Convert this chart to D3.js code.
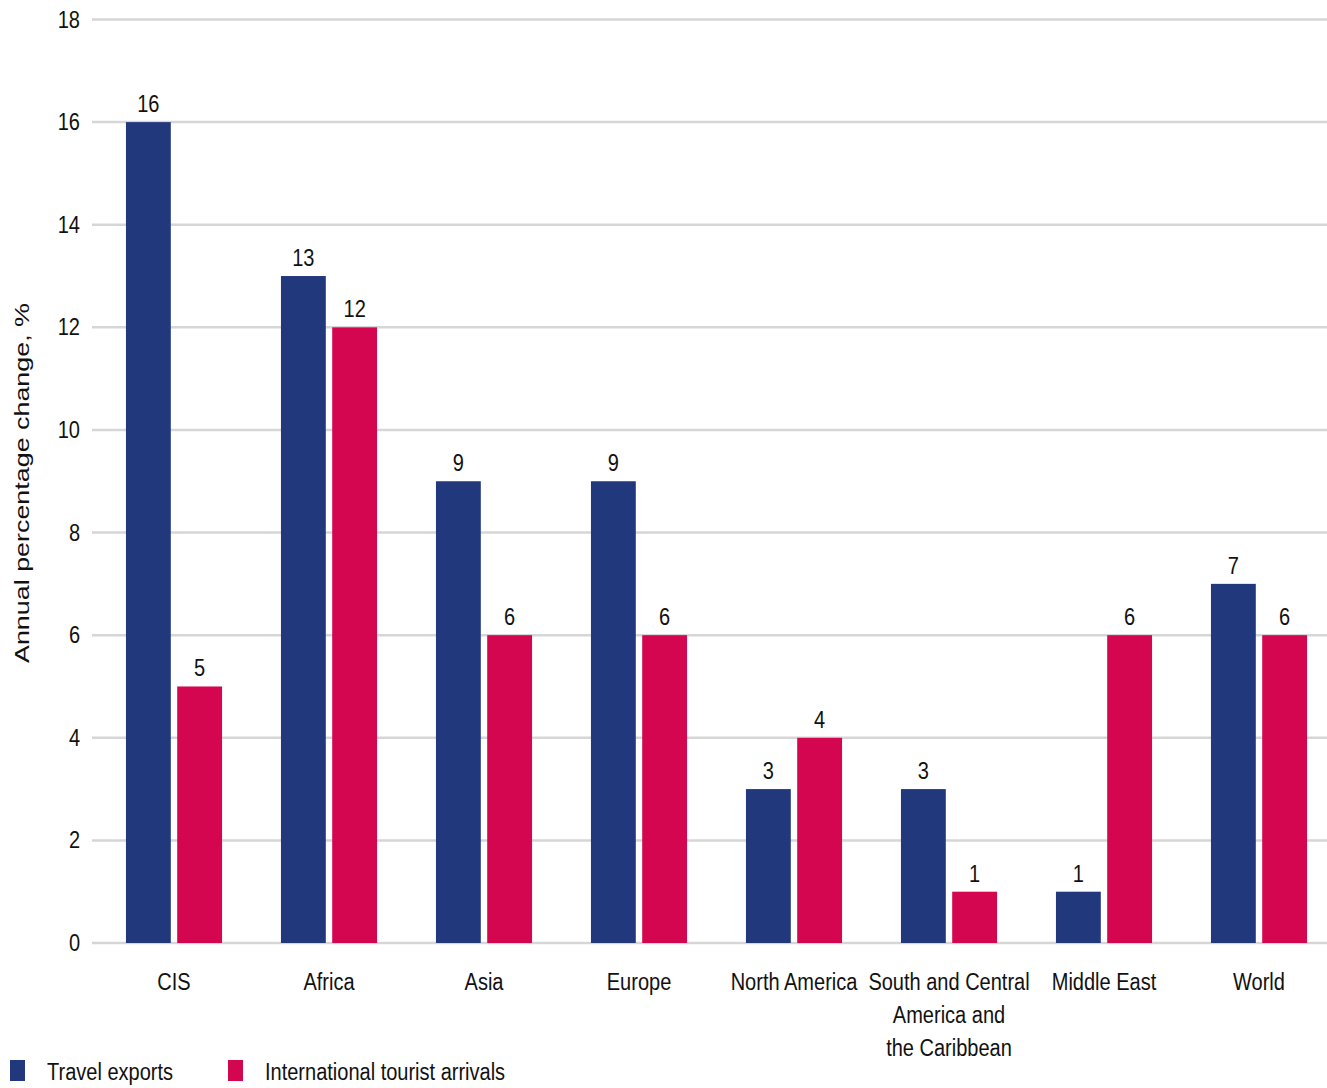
<!DOCTYPE html>
<html><head><meta charset="utf-8">
<script src="https://cdn.jsdelivr.net/npm/d3@7"></script>
<style>
html,body{margin:0;padding:0;background:#fff;}
svg{display:block;}
text{font-family:"Liberation Sans","Arial",sans-serif;fill:#111;}
</style></head>
<body>
<script>
const categories = ["CIS","Africa","Asia","Europe","North America","South and Central America and the Caribbean","Middle East","World"];
const categoryLines = [["CIS"],["Africa"],["Asia"],["Europe"],["North America"],["South and Central","America and","the Caribbean"],["Middle East"],["World"]];
const seriesNames = ["Travel exports","International tourist arrivals"];
const travelExports = [16,13,9,9,3,3,1,7];
const touristArrivals = [5,12,6,6,4,1,6,6];
const yTicks = [0,2,4,6,8,10,12,14,16,18];
const colors = ["#22387d","#d3064f"];

const W = 1327, H = 1088;
const SX = 0.87; // horizontal condensing of text
const FS = 23;
const svg = d3.select("body").append("svg").attr("width",W).attr("height",H);

const y = d3.scaleLinear().domain([0,18]).range([943,19.5]);
const x0 = d3.scaleBand().domain(categories).range([96.5,1336.5]).paddingInner(0.38).paddingOuter(0.19);
const x1 = d3.scaleBand().domain(seriesNames).range([0,x0.bandwidth()]).paddingInner(0.125);

function label(parent, x, yy, str, anchor, size, dy){
  const g = parent.append("g").attr("transform",`translate(${x},${yy}) scale(${SX},1)`);
  const t = g.append("text").attr("x",0).attr("y",0).attr("text-anchor",anchor).attr("font-size",size).text(str);
  if(dy) t.attr("dy",dy);
  return t;
}

// gridlines
svg.append("g").selectAll("line").data(yTicks).join("line")
  .attr("x1",92).attr("x2",1327)
  .attr("y1",d=>y(d)).attr("y2",d=>y(d))
  .attr("stroke","#d6d6d6").attr("stroke-width",2.5);

// y tick labels
const tg = svg.append("g");
yTicks.forEach(d=>label(tg,80,y(d),String(d),"end",FS,"0.35em"));

// y title
svg.append("text").attr("transform","translate(29,483) rotate(-90) scale(1.28,1)")
  .attr("text-anchor","middle").attr("font-size",21).text("Annual percentage change, %");

const seriesData = [travelExports, touristArrivals];
seriesData.forEach((vals,si)=>{
  const g = svg.append("g");
  g.selectAll("rect").data(vals).join("rect")
    .attr("x",(d,i)=>x0(categories[i])+x1(seriesNames[si]))
    .attr("y",d=>y(d))
    .attr("width",x1.bandwidth())
    .attr("height",d=>y(0)-y(d))
    .attr("fill",colors[si]);
  const lg = svg.append("g");
  vals.forEach((d,i)=>{
    label(lg, x0(categories[i])+x1(seriesNames[si])+x1.bandwidth()/2, y(d)-10, String(d), "middle", FS);
  });
});

// category labels
const cg = svg.append("g");
categories.forEach((c,i)=>{
  categoryLines[i].forEach((ln,j)=>{
    label(cg, x0(c)+x0.bandwidth()/2, 990+j*33, ln, "middle", FS);
  });
});

// legend
const legX = [10,228];
seriesNames.forEach((s,i)=>{
  svg.append("rect").attr("x",legX[i]).attr("y",1060).attr("width",15).attr("height",21).attr("fill",colors[i]);
  label(svg, legX[i]+37, 1080, s, "start", FS);
});
</script>
</body></html>
